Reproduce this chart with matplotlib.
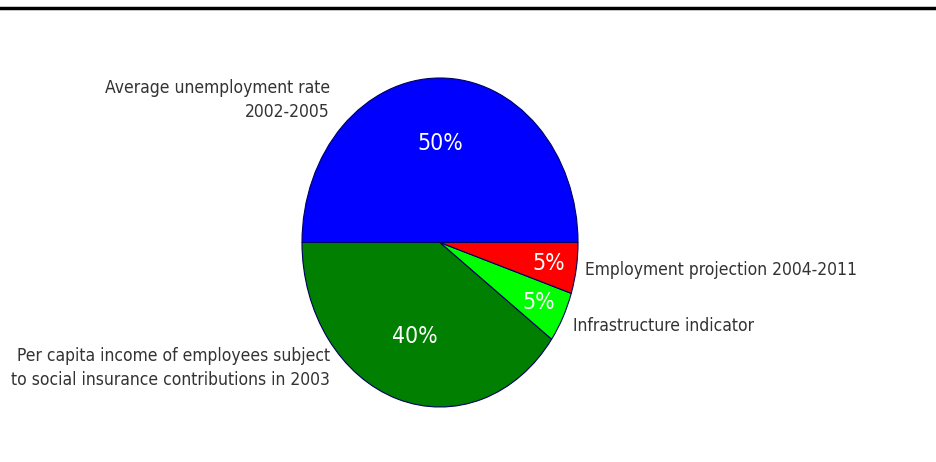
import matplotlib
matplotlib.use('Agg')
import matplotlib.pyplot as plt
import numpy as np
from matplotlib.lines import Line2D

labels = ['Average unemployment rate\n2002-2005',
          'Per capita income of employees subject\nto social insurance contributions in 2003',
          'Infrastructure indicator',
          'Employment projection 2004-2011']
shares = [50, 40, 5, 5]
colors = ['#0000ff', '#007f00', '#00ff00', '#ff0000']

fig = plt.figure(figsize=(9.36, 4.62), dpi=100)
# axes box in pixel terms: pie spans x 302..578, y 78..407
ax = fig.add_axes([302/936, (462-407)/462, 276/936, 329/462])
wedges, _, autotexts = ax.pie(shares, colors=colors, startangle=0, counterclock=True,
                              autopct='%d%%', pctdistance=0.6,
                              wedgeprops=dict(edgecolor='#000060', linewidth=0.8),
                              textprops=dict(color='white', fontsize=16.5,
                                             fontstretch='condensed'))
# small slices: push percent labels outward
for w, t in zip(wedges, autotexts):
    if w.theta2 - w.theta1 < 30:
        ang = np.deg2rad((w.theta1 + w.theta2) / 2)
        t.set_position((0.8 * np.cos(ang), 0.8 * np.sin(ang)))
ax.set_aspect('auto')
ax.set_xlim(-1, 1)
ax.set_ylim(-1, 1)
ax.axis('off')

kw = dict(fontsize=12.5, color='#333333', fontstretch='condensed', linespacing=1.4)
fig.text(330/936, 1 - 100/462, labels[0], ha='right', va='center', multialignment='right', **kw)
fig.text(330/936, 1 - 368/462, labels[1], ha='right', va='center', multialignment='right', **kw)
fig.text(573/936, 1 - 326/462, labels[2], ha='left', va='center', **kw)
fig.text(585/936, 1 - 270/462, labels[3], ha='left', va='center', **kw)

fig.add_artist(Line2D([0, 1], [1 - 8/462, 1 - 8/462], color='black', linewidth=2.5,
                      transform=fig.transFigure))

fig.savefig('out.png', dpi=100)
